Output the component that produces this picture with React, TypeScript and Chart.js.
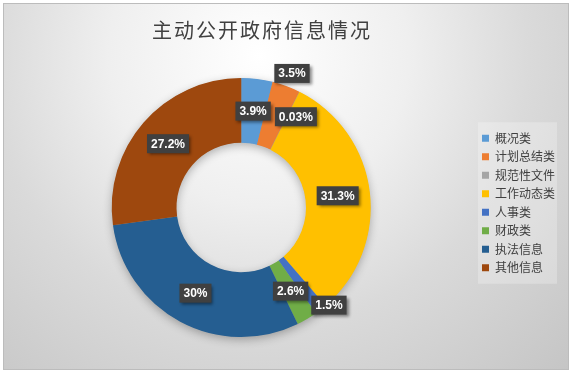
import React, { useEffect, useRef } from "react";
import { Chart, registerables } from "chart.js";

Chart.register(...registerables);

const titleText = "主动公开政府信息情况";
const categories = ["概况类", "计划总结类", "规范性文件", "工作动态类", "人事类", "财政类", "执法信息", "其他信息"];
const shares = [3.9, 3.5, 0.03, 31.3, 1.5, 2.6, 30, 27.2];
const colors = ["#5B9BD5", "#ED7D31", "#A5A5A5", "#FFC000", "#4472C4", "#70AD47", "#255E91", "#9E480E"];
// label nudges (px) for the small slices whose labels sit off the ring centre
const labelNudges: [number, number][] = [[0, 0], [17, -43], [11, -4], [0, 0], [28, 21], [0, 0], [0, 0], [0, 0]];

const CJK = '"Noto Sans CJK SC", "Noto Sans", sans-serif';

const ringShadow = {
  id: "ringShadow",
  beforeDatasetsDraw(chart: any) {
    const arc = chart.getDatasetMeta(0).data[0];
    if (!arc) return;
    const { x, y, innerRadius, outerRadius } = arc.getProps(["x", "y", "innerRadius", "outerRadius"], true);
    const ctx = chart.ctx;
    ctx.save();
    ctx.shadowColor = "rgba(0,0,0,0.3)";
    ctx.shadowBlur = 10;
    ctx.shadowOffsetY = 3;
    ctx.beginPath();
    ctx.arc(x, y, outerRadius - 0.5, 0, Math.PI * 2);
    ctx.arc(x, y, innerRadius + 0.5, 0, Math.PI * 2, true);
    ctx.fillStyle = "#999";
    ctx.fill();
    ctx.restore();
  },
};

const valueLabels = {
  id: "valueLabels",
  afterDatasetsDraw(chart: any) {
    const ctx = chart.ctx;
    const meta = chart.getDatasetMeta(0);
    ctx.save();
    ctx.font = 'bold 12px "Liberation Sans", Arial, sans-serif';
    meta.data.forEach((arc: any, i: number) => {
      const p = arc.getProps(["x", "y", "startAngle", "endAngle", "innerRadius", "outerRadius"], true);
      const mid = (p.startAngle + p.endAngle) / 2;
      const r = (p.innerRadius + p.outerRadius) / 2;
      const cx = p.x + Math.cos(mid) * r + labelNudges[i][0];
      const cy = p.y + Math.sin(mid) * r + labelNudges[i][1];
      const text = `${shares[i]}%`;
      const w = ctx.measureText(text).width + 8;
      const h = 19;
      ctx.save();
      ctx.shadowColor = "rgba(0,0,0,0.45)";
      ctx.shadowBlur = 3;
      ctx.shadowOffsetX = 2;
      ctx.shadowOffsetY = 2;
      ctx.fillStyle = "#404040";
      ctx.fillRect(cx - w / 2, cy - h / 2, w, h);
      ctx.restore();
      ctx.fillStyle = "#ffffff";
      ctx.textAlign = "center";
      ctx.textBaseline = "middle";
      ctx.fillText(text, cx, cy + 0.5);
    });
    ctx.restore();
  },
};

const titleDraw = {
  id: "titleDraw",
  afterDraw(chart: any) {
    const ctx = chart.ctx;
    ctx.save();
    ctx.font = `20px ${CJK}`;
    (ctx as any).letterSpacing = "2px";
    ctx.fillStyle = "#404040";
    ctx.textAlign = "center";
    ctx.textBaseline = "middle";
    ctx.fillText(titleText, 258, 26);
    ctx.restore();
  },
};

const legendTweak = {
  id: "legendTweak",
  afterLayout(chart: any) {
    const lg = chart.legend;
    if (lg) {
      lg.top -= 4.5;
      lg.bottom -= 4.5;
    }
  },
  beforeDraw(chart: any) {
    const lg = chart.legend;
    if (!lg || !lg.legendHitBoxes || !lg.legendHitBoxes.length) return;
    const hb = lg.legendHitBoxes;
    const first = hb[0];
    const last = hb[hb.length - 1];
    const ctx = chart.ctx;
    ctx.save();
    ctx.fillStyle = "rgba(255,255,255,0.25)";
    ctx.fillRect(first.left - 4, first.top - 10, 79, last.top + last.height - first.top + 20);
    ctx.restore();
  },
};

export default function App() {
  const ref = useRef<HTMLCanvasElement | null>(null);
  useEffect(() => {
    if (!ref.current) return;
    const chart = new Chart(ref.current, {
      type: "doughnut",
      data: {
        labels: categories,
        datasets: [
          {
            data: shares,
            backgroundColor: colors,
            borderWidth: 0,
          },
        ],
      },
      options: {
        responsive: false,
        animation: false,
        cutout: "50%",
        layout: { padding: { top: 74, bottom: 32, left: 3, right: 3 } },
        plugins: {
          tooltip: { enabled: false },
          title: { display: false },
          legend: {
            position: "right",
            labels: {
              boxWidth: 7,
              boxHeight: 7,
              padding: 6.5,
              color: "#404040",
              font: { size: 12, family: CJK },
            },
          },
        },
      },
      plugins: [legendTweak, ringShadow, valueLabels, titleDraw],
    });
    return () => chart.destroy();
  }, []);

  return (
    <div
      style={{
        position: "absolute",
        left: 3,
        top: 3,
        width: 566,
        height: 367,
        boxSizing: "border-box",
        border: "1px solid #bcbcbc",
        background:
          "radial-gradient(circle at 255px 52px, #ffffff 0px, #efefef 150px, #dadada 270px, #c4c4c4 450px)",
      }}
    >
      <canvas ref={ref} width={564} height={365} style={{ display: "block" }} />
    </div>
  );
}
